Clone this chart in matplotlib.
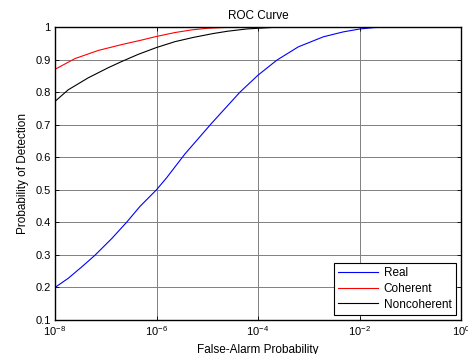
import matplotlib
matplotlib.use("Agg")
import matplotlib.pyplot as plt
import numpy as np

plt.rcParams['font.family'] = ['Liberation Sans', 'DejaVu Sans']
plt.rcParams['mathtext.fontset'] = 'custom'
plt.rcParams['mathtext.rm'] = 'Liberation Sans'
plt.rcParams['mathtext.it'] = 'Liberation Sans'

# log10 of false-alarm probability and detection probability
real_logpfa = [-8.0, -7.74, -7.474, -7.212, -6.883, -6.59, -6.325, -6.0, -5.8, -5.44,
               -4.91, -4.355, -4.0, -3.63, -3.206, -2.71, -2.32, -1.99, -1.73, -1.45, 0.0]
real_pd = [0.200, 0.228, 0.263, 0.299, 0.350, 0.400, 0.449, 0.500, 0.537, 0.610,
           0.705, 0.800, 0.852, 0.898, 0.939, 0.970, 0.985, 0.994, 0.998, 1.0, 1.0]

coh_logpfa = [-8.0, -7.606, -7.147, -6.686, -6.29, -6.0, -5.636, -5.31, -5.01, -4.6, -4.2, 0.0]
coh_pd = [0.870, 0.903, 0.928, 0.946, 0.960, 0.971, 0.983, 0.991, 0.996, 0.999, 1.0, 1.0]

nc_logpfa = [-8.0, -7.74, -7.344, -6.95, -6.686, -6.36, -6.0, -5.636, -5.275, -4.88,
             -4.6, -4.22, -3.9, -3.56, 0.0]
nc_pd = [0.7715, 0.807, 0.844, 0.875, 0.894, 0.916, 0.937, 0.955, 0.968, 0.980,
         0.987, 0.994, 0.997, 1.0, 1.0]

xticks = [1e-8, 1e-6, 1e-4, 1e-2, 1e0]
xticklabels = [r'$10^{-8}$', r'$10^{-6}$', r'$10^{-4}$', r'$10^{-2}$', r'$10^{0}$']
yticks = [0.1, 0.2, 0.3, 0.4, 0.5, 0.6, 0.7, 0.8, 0.9, 1.0]
yticklabels = ['0.1', '0.2', '0.3', '0.4', '0.5', '0.6', '0.7', '0.8', '0.9', '1']

fig = plt.figure(figsize=(4.68, 3.54), dpi=100)
ax = fig.add_axes([55/468, 1 - 320/354, (461-55)/468, (320-27)/354])

ax.plot(10**np.array(real_logpfa), real_pd, color='#0000ff', lw=0.8, label='Real')
ax.plot(10**np.array(coh_logpfa), coh_pd, color='#ff0000', lw=0.8, label='Coherent')
ax.plot(10**np.array(nc_logpfa), nc_pd, color='black', lw=0.8, label='Noncoherent')

ax.set_xscale('log')
ax.set_xlim(1e-8, 1e0)
ax.set_ylim(0.1, 1.0)
ax.set_xticks(xticks)
ax.set_xticklabels(xticklabels)
ax.xaxis.set_minor_locator(matplotlib.ticker.NullLocator())
ax.set_yticks(yticks)
ax.set_yticklabels(yticklabels)
ax.tick_params(direction='in', labelsize=8, top=True, right=True, length=3, width=0.6, pad=3)
ax.grid(True, color='#808080', lw=0.7)
for s in ax.spines.values():
    s.set_linewidth(1.0)

ax.set_title('ROC Curve', fontsize=8.5, pad=6)
ax.set_xlabel('False-Alarm Probability', fontsize=8.5, labelpad=4)
ax.set_ylabel('Probability of Detection', fontsize=8.5, labelpad=5)

leg = ax.legend(loc='lower right', fontsize=8.5, fancybox=False, framealpha=1,
                edgecolor='black', borderaxespad=0.45, handlelength=3.4,
                handletextpad=0.45, labelspacing=0.3, borderpad=0.35)
leg.get_frame().set_linewidth(0.8)

fig.savefig('out.png', dpi=100)
